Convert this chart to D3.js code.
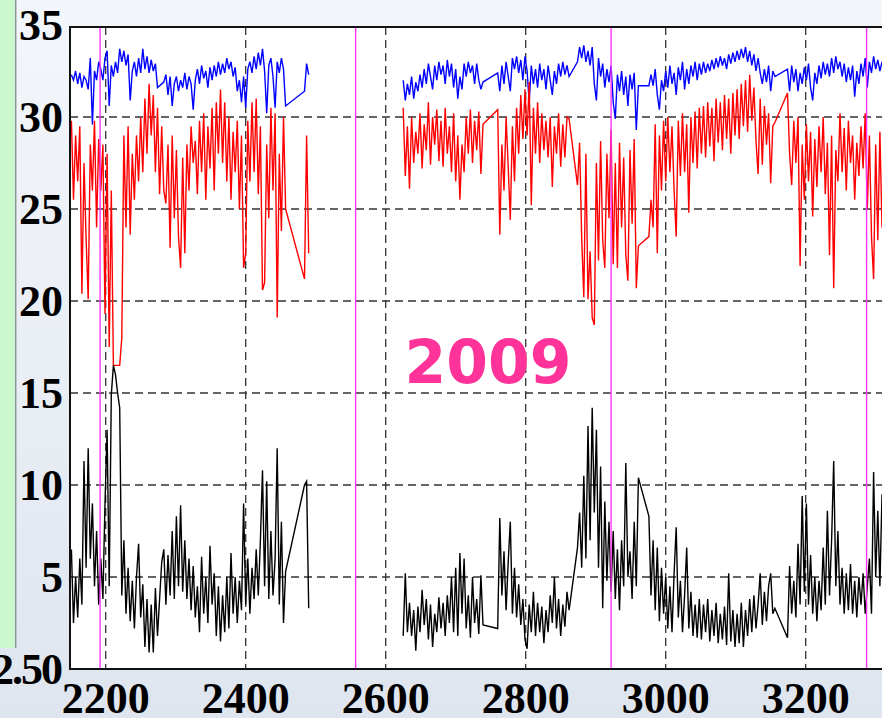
<!DOCTYPE html>
<html>
<head>
<meta charset="utf-8">
<script src="https://d3js.org/d3.v7.min.js"></script>
<style>
	html, body { margin: 0; padding: 0; overflow: hidden; background: #e9eef5; }
</style>
</head>
<body>
<div id="chart"></div>
<script>
// 観測日（通日）: 3日おきのサンプル。runs の間は直線でつなぐ
const STEP = 3;
const runsA = [[2151, 2457], [2484, 2490]];
const runsB = [[2625, 2739], [2760, 2862], [2874, 2961], [2976, 3156], [3174, 3318]];

// 年の区切り（マゼンタ縦線）
const yearLines = [2192, 2557, 2922, 3287];
const xTicks = [2200, 2400, 2600, 2800, 3000, 3200];
const yTicks = [0, 5, 10, 15, 20, 25, 30, 35];
const yearLabel = '2009';

// 青（上段）
const blueA = [
	32.3, 32.0, 32.5, 31.8, 32.4, 31.6, 32.2, 32.0, 31.5, 33.2,
	29.6, 32.5, 32.0, 33.0, 32.6, 32.0, 33.2, 33.6, 30.6, 32.8,
	32.2, 33.0, 32.4, 33.7, 33.0, 33.6, 32.8, 33.4, 30.9, 32.5,
	33.0, 32.2, 33.2, 32.4, 33.7, 32.6, 33.3, 32.4, 33.1, 32.5,
	32.9, 31.6, 31.7, 31.8, 31.9, 32.3, 31.2, 32.2, 30.6, 31.8,
	32.2, 31.4, 32.0, 31.6, 32.4, 31.5, 32.2, 31.8, 30.4, 32.0,
	32.6, 31.8, 32.8, 32.1, 32.5, 31.6, 32.7, 32.0, 32.8, 32.2,
	33.0, 32.3, 32.9, 32.4, 33.2, 32.6, 33.0, 32.2, 32.7, 31.4,
	32.0, 30.8, 32.2, 30.5, 32.6, 33.0, 32.4, 33.3, 32.6, 33.5,
	32.8, 33.7, 32.5, 30.2, 32.8, 33.2, 32.2, 30.5, 33.0, 32.4,
	33.2, 32.6, 30.6,
	31.4, 32.9, 32.3
];
const blueB = [
	32.0, 30.9, 31.8, 31.2, 32.2, 31.0, 31.9, 31.4, 32.3, 31.6,
	32.6, 31.8, 32.9, 32.2, 31.5, 32.8, 32.0, 33.0, 32.3, 32.8,
	31.8, 33.1, 32.2, 32.9, 31.6, 32.6, 31.0, 32.2, 31.5, 32.9,
	32.2, 33.0, 32.4, 32.8, 31.8, 32.9, 32.0, 31.5, 31.9,
	32.4, 31.4, 32.8, 31.8, 33.0, 32.2, 31.4, 33.2, 32.6, 33.3,
	32.4, 33.1, 32.0, 33.3, 32.5, 30.8, 32.8, 31.8, 32.6, 31.6,
	32.9, 32.0, 32.6, 31.5, 32.8, 32.0, 31.2, 32.5, 31.8, 32.9,
	32.2, 33.0, 32.3, 32.8, 32.2,
	33.0, 33.8, 33.2, 33.9, 33.0, 33.6, 32.8, 33.8, 31.8, 30.9,
	33.2, 32.2, 32.9, 31.6, 32.6, 31.9, 32.8, 30.8, 29.9, 32.3,
	31.4, 32.5, 31.2, 32.2, 30.6, 32.3, 31.5, 32.4, 29.3, 31.7,
	31.7, 32.3, 31.7, 32.6, 31.2, 30.4, 32.0, 31.4, 32.5, 31.6,
	32.8, 31.8, 32.4, 31.2, 32.7, 32.0, 33.0, 31.5, 32.6, 31.8,
	32.8, 32.2, 33.0, 32.0, 32.9, 32.3, 33.0, 32.4, 32.9, 32.5,
	33.1, 32.6, 33.2, 32.7, 33.3, 32.8, 33.2, 32.6, 33.4, 32.9,
	33.5, 33.0, 33.6, 33.1, 33.7, 33.2, 33.8, 33.0, 33.6, 32.8,
	33.4, 32.5, 33.2, 32.4, 31.8, 32.6, 31.9, 32.8, 31.4, 32.5,
	32.2,
	32.6, 31.4, 32.8, 31.9, 32.6, 31.4, 32.4, 31.8, 32.7, 32.0,
	32.9, 31.6, 30.9, 32.4, 31.8, 32.8, 32.1, 33.0, 32.3, 32.9,
	32.2, 33.2, 32.4, 33.3, 32.6, 33.0, 32.2, 32.9, 31.9, 32.7,
	32.0, 32.8, 31.1, 32.5, 31.8, 32.9, 32.2, 33.2, 31.6, 33.0,
	32.4, 33.3, 32.6, 33.1, 32.5, 33.0, 32.6, 33.0, 32.7
];

// 赤（中段）
const redA = [
	29.8, 25.5, 29.0, 26.5, 29.5, 20.4, 27.5, 23.4, 20.1, 28.5,
	26.0, 29.8, 24.0, 28.8, 26.0, 28.5, 19.3, 28.0, 17.5, 26.0,
	16.5, 16.5, 16.5, 16.5, 18.0, 29.0, 24.0, 29.5, 23.6, 28.0,
	25.5, 29.0, 26.5, 30.0, 27.0, 31.0, 28.0, 31.8, 29.0, 31.2,
	27.0, 30.5, 25.8, 29.5, 26.0, 25.3, 28.5, 22.9, 29.0, 24.5,
	28.2, 23.5, 21.8, 27.8, 22.6, 28.5, 26.0, 29.5, 27.5, 28.7,
	25.8, 29.8, 27.0, 30.2, 25.5, 29.5, 27.2, 30.5, 26.0, 30.8,
	28.0, 31.5, 27.5, 30.8, 26.5, 30.0, 25.5, 29.2, 27.0, 29.8,
	25.0, 29.0, 21.8, 22.6, 29.8, 26.5, 30.8, 27.0, 31.0, 25.8,
	29.5, 20.6, 21.0, 28.5, 24.5, 30.5, 26.0, 30.2, 19.1, 28.0,
	23.8, 30.0, 25.0,
	21.2, 29.0, 22.6
];
const redB = [
	30.5, 26.8, 29.5, 26.1, 30.0, 27.5, 29.2, 28.0, 30.2, 27.2,
	29.6, 28.2, 30.8, 27.4, 30.0, 28.5, 30.4, 27.6, 29.8, 27.3,
	30.5, 28.0, 29.5, 27.0, 30.2, 26.5, 29.0, 25.5, 28.5, 27.0,
	30.0, 28.0, 30.4, 27.5, 29.8, 28.2, 30.3, 26.9, 29.6,
	30.4, 23.6, 28.5, 26.0, 30.0, 27.3, 24.4, 29.5, 26.5, 30.5,
	28.0, 31.2, 28.8, 31.5, 29.0, 31.9, 25.2, 30.5, 28.0, 30.8,
	27.5, 30.2, 28.2, 29.8, 27.8, 30.0, 26.2, 29.5, 28.0, 30.2,
	27.3, 29.6, 27.8, 30.0, 29.9,
	26.3, 28.6, 23.4, 20.2, 28.0, 20.1, 22.7, 19.1, 18.7, 27.5,
	22.2, 28.7, 23.3, 21.8, 28.0, 24.5, 29.3, 22.0, 27.5, 21.8,
	28.6, 24.0, 27.8, 22.5, 21.1, 28.2, 24.2, 28.8, 20.7, 23.0,
	23.5, 25.5, 24.0, 29.6, 22.6, 29.0, 26.0, 29.8, 26.5, 30.0,
	27.0, 29.5, 26.0, 23.5, 29.8, 26.8, 30.2, 27.0, 29.6, 24.8,
	30.0, 27.5, 30.3, 27.2, 30.5, 28.0, 30.6, 27.8, 30.8, 28.4,
	30.5, 27.6, 31.0, 28.6, 30.8, 28.2, 31.2, 28.8, 31.0, 28.0,
	31.3, 29.0, 31.5, 28.8, 31.8, 29.5, 32.0, 29.2, 32.3, 29.8,
	31.6, 28.7, 26.9, 31.0, 27.4, 30.6, 28.5, 30.2, 26.4, 29.5,
	29.7,
	31.3, 28.0, 26.3, 29.8, 27.5, 30.0, 21.9, 28.5, 25.5, 29.6,
	26.5, 29.2, 24.6, 28.8, 26.2, 29.5, 27.0, 30.0, 25.8, 28.6,
	22.5, 29.0, 20.7, 28.2, 26.5, 30.2, 27.0, 29.4, 26.0, 29.8,
	27.5, 29.0, 25.5, 28.6, 26.8, 29.5, 27.2, 30.2, 25.0, 29.0,
	23.5, 21.2, 28.5, 23.3, 29.2, 24.0, 28.5, 25.0, 28.0
];

// 黒（下段）
const blackA = [
	6.5, 2.5, 5.0, 2.8, 6.0, 3.5, 11.3, 5.5, 12.0, 6.0,
	9.0, 4.5, 7.5, 3.5, 6.0, 3.8, 9.0, 13.0, 4.5, 14.9,
	16.5, 16.0, 15.0, 14.2, 4.0, 7.0, 3.0, 5.5, 2.6, 4.8,
	2.2, 5.0, 6.8, 2.8, 4.6, 1.2, 3.8, 0.9, 3.5, 0.9,
	4.4, 1.8, 3.8, 5.8, 6.5, 3.5, 6.2, 4.0, 7.5, 3.8,
	8.3, 4.5, 8.9, 4.2, 7.0, 3.8, 6.0, 3.2, 5.6, 2.8,
	4.5, 2.0, 6.1, 3.0, 5.0, 2.5, 6.7, 3.5, 5.2, 1.8,
	4.5, 1.5, 4.0, 2.0, 5.0, 2.2, 6.3, 3.0, 5.0, 2.5,
	4.8, 3.2, 9.0, 3.5, 6.0, 3.0, 5.5, 3.8, 6.5, 4.0,
	7.0, 10.8, 4.5, 10.2, 3.8, 7.5, 4.0, 6.0, 12.0, 3.5,
	8.0, 2.5, 5.3,
	10.0, 10.2, 3.3
];
const blackB = [
	1.8, 5.2, 2.0, 3.6, 1.8, 3.2, 1.0, 3.4, 2.0, 4.3,
	2.4, 3.8, 1.6, 3.5, 1.2, 3.0, 2.0, 3.9, 2.2, 3.6,
	1.8, 4.0, 2.5, 5.0, 2.0, 5.5, 1.8, 6.3, 3.0, 6.0,
	2.2, 4.0, 1.7, 5.0, 2.5, 3.8, 1.9, 5.1, 2.4,
	2.2, 8.2, 4.0, 6.4, 3.2, 5.8, 8.0, 3.0, 5.5, 2.8,
	4.6, 2.4, 3.8, 1.6, 1.1, 3.5, 2.0, 4.2, 1.8, 3.6,
	2.0, 3.4, 1.4, 3.2, 2.0, 4.0, 2.5, 5.0, 2.2, 3.8,
	1.8, 3.5, 2.3, 4.2, 3.2,
	6.6, 8.5, 5.5, 10.5, 6.0, 13.2, 7.0, 14.2, 8.5, 13.0,
	5.5, 11.0, 3.3, 9.1, 4.8, 8.0, 4.2, 7.5, 3.8, 6.5,
	3.2, 7.0, 4.5, 11.2, 5.0, 6.4, 3.8, 8.0, 4.5, 10.4,
	8.3, 4.0, 7.0, 3.2, 6.6, 2.6, 5.5, 3.0, 5.0, 2.2,
	4.5, 2.0, 5.2, 7.7, 2.8, 4.8, 2.0, 4.0, 6.6, 2.2,
	4.2, 1.8, 3.5, 1.7, 3.8, 1.6, 3.5, 2.0, 3.8, 1.5,
	3.2, 1.8, 3.6, 1.4, 3.0, 1.6, 3.4, 1.3, 5.2, 1.5,
	3.2, 1.2, 3.0, 1.4, 3.6, 1.2, 3.2, 1.8, 3.8, 2.0,
	4.0, 2.2, 3.5, 5.2, 2.4, 4.2, 2.6, 4.5, 5.2, 3.0,
	3.3,
	1.7, 5.6, 3.0, 4.8, 2.8, 6.8, 3.5, 9.4, 4.2, 9.0,
	3.5, 6.2, 3.0, 5.0, 2.6, 4.8, 3.2, 6.6, 3.5, 8.6,
	4.0, 7.0, 11.3, 4.5, 7.5, 3.5, 5.5, 3.0, 5.2, 3.2,
	5.7, 3.0, 4.8, 2.8, 5.0, 3.5, 5.2, 3.0, 4.5, 6.0,
	3.0, 10.7, 5.0, 8.6, 4.5, 9.5, 5.0, 7.5, 4.5
];

(function() {
	const width = 882;
	const height = 718;

	// プロット領域（右端は画面外まで伸びる）
	const plot = { left: 70, top: 27, right: 904, bottom: 669 };

	/**
	 * runs から日付の配列を作る
	 * @param {Array} runs - [開始日, 終了日] の配列
	 * @returns {Array} 日付
	 */
	function buildDays(runs) {
		const days = [];
		runs.forEach(function(r) {
			for (let d = r[0]; d <= r[1]; d += STEP) {
				days.push(d);
			}
		});
		return days;
	}

	const daysA = buildDays(runsA);
	const daysB = buildDays(runsB);

	/**
	 * 2つの区間をまとめ、間を途切れさせる
	 */
	function buildPoints(valsA, valsB, name) {
		if (valsA.length !== daysA.length || valsB.length !== daysB.length) {
			console.warn(name, valsA.length, daysA.length, valsB.length, daysB.length);
		}
		const a = daysA.map((d, i) => ({ day: d, value: valsA[i] }));
		const b = daysB.map((d, i) => ({ day: d, value: valsB[i] }));
		return a.concat([null], b);
	}

	const series = [
		{ name: 'blue', color: '#0000ff', points: buildPoints(blueA, blueB, 'blue') },
		{ name: 'red', color: '#ff0000', points: buildPoints(redA, redB, 'red') },
		{ name: 'black', color: '#000000', points: buildPoints(blackA, blackB, 'black') }
	];

	const x = d3.scaleLinear().domain([2150, 3340]).range([70.7, 903.7]);
	const y = d3.scaleLinear().domain([0, 35]).range([669, 25]);

	const svg = d3.select('#chart')
		.append('svg')
		.attr('width', width)
		.attr('height', height)
		.style('display', 'block');

	// 背景（空のような淡い色）
	const defs = svg.append('defs');
	const grad = defs.append('linearGradient')
		.attr('id', 'bg')
		.attr('x1', 0).attr('y1', 0).attr('x2', 0).attr('y2', 1);
	grad.append('stop').attr('offset', '0%').attr('stop-color', '#f3f6fa');
	grad.append('stop').attr('offset', '60%').attr('stop-color', '#e8edf4');
	grad.append('stop').attr('offset', '100%').attr('stop-color', '#dfe5ee');

	svg.append('rect')
		.attr('width', width)
		.attr('height', height)
		.attr('fill', 'url(#bg)');

	// 左端の緑の帯
	svg.append('rect')
		.attr('x', 0).attr('y', 0)
		.attr('width', 15).attr('height', 648)
		.attr('fill', '#ccf6cc');
	svg.append('line')
		.attr('x1', 15.7).attr('x2', 15.7)
		.attr('y1', 0).attr('y2', 648)
		.attr('stroke', '#8f9499')
		.attr('stroke-width', 1.5);

	defs.append('clipPath')
		.attr('id', 'plotClip')
		.append('rect')
		.attr('x', plot.left).attr('y', plot.top)
		.attr('width', plot.right - plot.left)
		.attr('height', plot.bottom - plot.top);

	// プロット背景
	svg.append('rect')
		.attr('x', plot.left).attr('y', plot.top)
		.attr('width', plot.right - plot.left)
		.attr('height', plot.bottom - plot.top)
		.attr('fill', '#ffffff');

	const grid = svg.append('g').attr('clip-path', 'url(#plotClip)');

	// 破線グリッド
	grid.selectAll('.hgrid')
		.data(yTicks.filter(v => v > 0 && v < 35))
		.enter()
		.append('line')
		.attr('x1', plot.left).attr('x2', plot.right)
		.attr('y1', d => y(d)).attr('y2', d => y(d))
		.attr('stroke', '#333')
		.attr('stroke-width', 1.3)
		.attr('stroke-dasharray', '8,5');

	grid.selectAll('.vgrid')
		.data(xTicks)
		.enter()
		.append('line')
		.attr('x1', d => x(d)).attr('x2', d => x(d))
		.attr('y1', plot.top).attr('y2', plot.bottom)
		.attr('stroke', '#333')
		.attr('stroke-width', 1.3)
		.attr('stroke-dasharray', '8,5');

	// データ線（元図は日次で密なので少し太めに）
	const line = d3.line()
		.defined(d => d !== null)
		.x(d => x(d.day))
		.y(d => y(d.value));

	grid.selectAll('.series')
		.data(series)
		.enter()
		.append('path')
		.attr('d', d => line(d.points))
		.attr('fill', 'none')
		.attr('stroke', d => d.color)
		.attr('stroke-width', 1.4)
		.attr('stroke-linejoin', 'miter');

	// 年の区切り線
	grid.selectAll('.year')
		.data(yearLines)
		.enter()
		.append('line')
		.attr('x1', d => x(d)).attr('x2', d => x(d))
		.attr('y1', plot.top).attr('y2', plot.bottom)
		.attr('stroke', '#ff33ff')
		.attr('stroke-width', 1.4);

	// 枠線
	svg.append('path')
		.attr('d', `M${plot.right},${plot.top}H${plot.left}V${plot.bottom}H${plot.right}`)
		.attr('fill', 'none')
		.attr('stroke', '#111')
		.attr('stroke-width', 2);

	const tickFont = '"Liberation Serif", "Times New Roman", serif';

	// Y軸ラベル
	svg.selectAll('.ylabel')
		.data(yTicks)
		.enter()
		.append('text')
		.attr('x', 63)
		.attr('y', d => y(d) + 15)
		.attr('text-anchor', 'end')
		.style('font-family', tickFont)
		.style('font-weight', 'bold')
		.style('font-size', '44px')
		.style('fill', '#000')
		.text(d => d);

	// 左下に重なって見える "2.5"
	svg.append('text')
		.attr('x', 41)
		.attr('y', y(0) + 15)
		.attr('text-anchor', 'end')
		.style('font-family', tickFont)
		.style('font-weight', 'bold')
		.style('font-size', '44px')
		.style('letter-spacing', '-2px')
		.style('fill', '#000')
		.text('2.5');

	// X軸ラベル
	svg.selectAll('.xlabel')
		.data(xTicks)
		.enter()
		.append('text')
		.attr('x', d => x(d))
		.attr('y', 713)
		.attr('text-anchor', 'middle')
		.style('font-family', tickFont)
		.style('font-weight', 'bold')
		.style('font-size', '44px')
		.style('fill', '#000')
		.text(d => d);

	// 年の表示
	svg.append('text')
		.attr('x', 488)
		.attr('y', 383)
		.attr('text-anchor', 'middle')
		.style('font-family', '"DejaVu Sans", Verdana, sans-serif')
		.style('font-weight', 'bold')
		.style('font-size', '60px')
		.style('fill', '#ff3399')
		.text(yearLabel);
}());
</script>
</body>
</html>
